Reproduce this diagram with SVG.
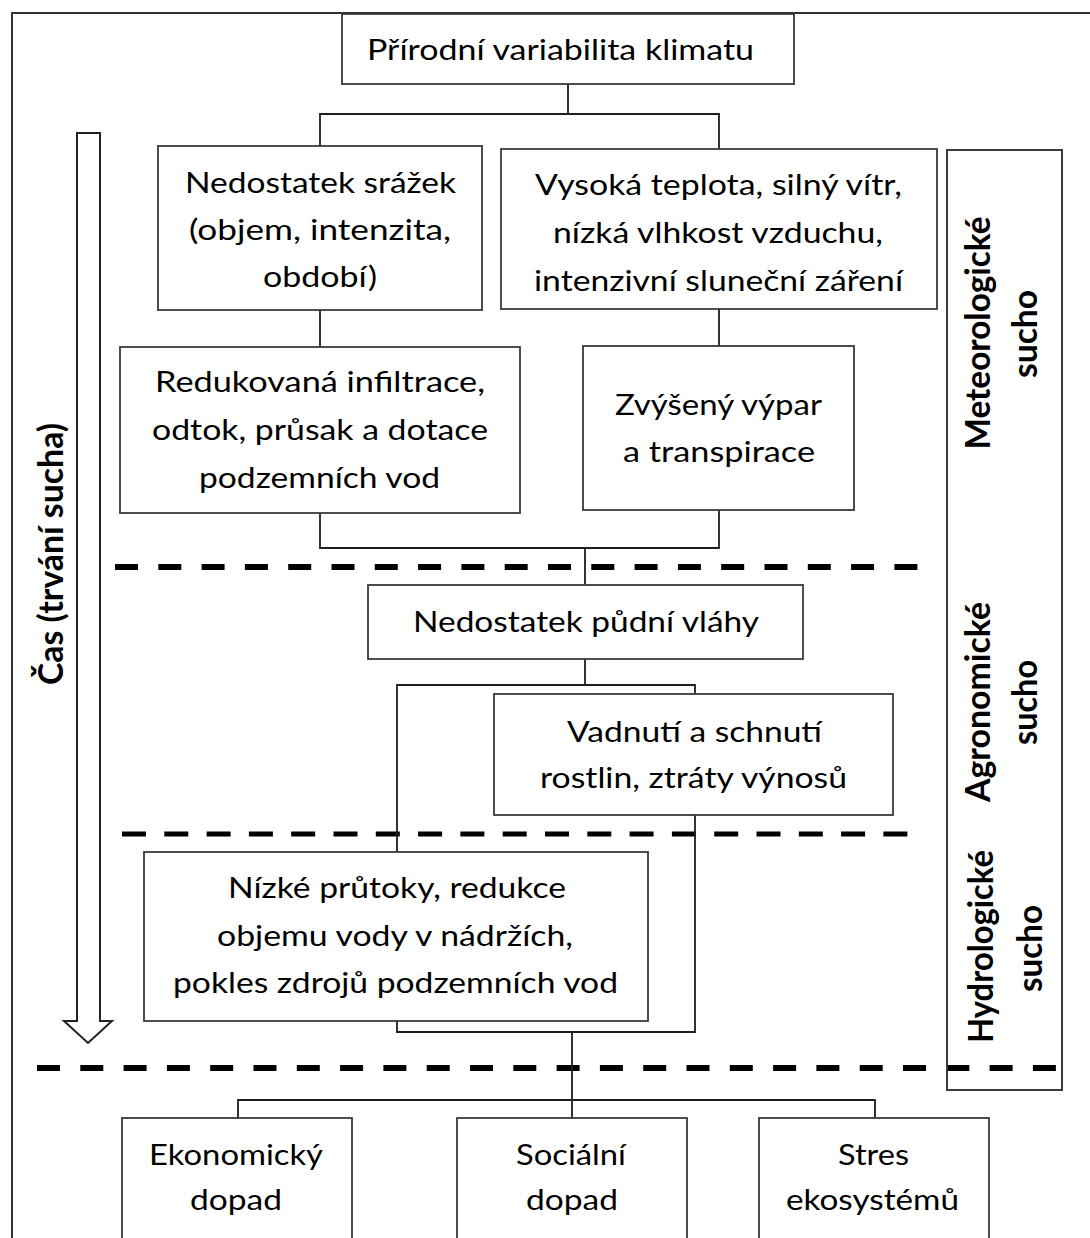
<svg xmlns="http://www.w3.org/2000/svg" width="1090" height="1238" viewBox="0 0 1090 1238">
<style>
  .box{fill:#fff;stroke:#3a3a3a;stroke-width:1.8}
  .con{fill:none;stroke:#1e1e1e;stroke-width:1.8}
  .dash{fill:none;stroke:#000;stroke-width:6;stroke-dasharray:23 20.3}
  .t{font-family:Lato,"Liberation Sans",sans-serif;font-size:28.5px;fill:#000}
  .b{font-family:Lato,"Liberation Sans",sans-serif;font-size:34px;font-weight:bold;fill:#000}
</style>
<rect width="1090" height="1238" fill="#fff"/>
<rect id="frame" x="12" y="13" width="1200" height="1300" fill="none" stroke="#333" stroke-width="2"/>

<g id="time-arrow">
  <path d="M77,133 H100 V1021 H112 L88,1043 L64,1021 H77 Z" fill="#fff" stroke="#222" stroke-width="2"/>
  <text class="b" transform="translate(63,554) rotate(-90)" text-anchor="middle" textLength="262" lengthAdjust="spacingAndGlyphs">Čas (trvání sucha)</text>
</g>

<g id="separators">
  <line class="dash" x1="115" y1="567" x2="918" y2="567"/>
  <line class="dash" x1="122" y1="834" x2="924" y2="834" style="stroke-width:5;stroke-dasharray:24 18.3"/>
  <line class="dash" x1="37" y1="1068" x2="1058" y2="1068"/>
</g>

<g id="connectors">
  <path class="con" d="M568,84 V114"/>
  <path class="con" d="M320,146 V114 H719 V149"/>
  <path class="con" d="M320,310 V347"/>
  <path class="con" d="M719,309 V346"/>
  <path class="con" d="M320,513 V548 H719 V510"/>
  <path class="con" d="M585,548 V585"/>
  <path class="con" d="M585,659 V685"/>
  <path class="con" d="M397,685 H695 V1032 H397 Z"/>
  <path class="con" d="M572,1032 V1118"/>
  <path class="con" d="M238,1118 V1100 H875 V1118"/>
</g>

<g id="phase-labels">
  <rect class="box" x="947" y="150" width="115" height="940" style="fill:none;stroke-width:2"/>
  <text class="b" transform="translate(990,333) rotate(-90)" text-anchor="middle" textLength="233" lengthAdjust="spacingAndGlyphs">Meteorologické</text>
  <text class="b" transform="translate(1037,334) rotate(-90)" text-anchor="middle" textLength="88" lengthAdjust="spacingAndGlyphs">sucho</text>
  <text class="b" transform="translate(990,702) rotate(-90)" text-anchor="middle" textLength="200" lengthAdjust="spacingAndGlyphs">Agronomické</text>
  <text class="b" transform="translate(1037,702.5) rotate(-90)" text-anchor="middle" textLength="85" lengthAdjust="spacingAndGlyphs">sucho</text>
  <text class="b" transform="translate(993,946.5) rotate(-90)" text-anchor="middle" textLength="193" lengthAdjust="spacingAndGlyphs">Hydrologické</text>
  <text class="b" transform="translate(1042,948.5) rotate(-90)" text-anchor="middle" textLength="87" lengthAdjust="spacingAndGlyphs">sucho</text>
</g>

<g id="n-climate">
  <rect class="box" x="342" y="14" width="452" height="70"/>
  <text class="t" x="367" y="60" textLength="387" lengthAdjust="spacingAndGlyphs">Přírodní variabilita klimatu</text>
</g>

<g id="n-precip">
  <rect class="box" x="158" y="146" width="324" height="164"/>
  <text class="t" x="185" y="193" textLength="271" lengthAdjust="spacingAndGlyphs">Nedostatek srážek</text>
  <text class="t" x="189" y="240" textLength="262" lengthAdjust="spacingAndGlyphs">(objem, intenzita,</text>
  <text class="t" x="263" y="287" textLength="114" lengthAdjust="spacingAndGlyphs">období)</text>
</g>

<g id="n-temp">
  <rect class="box" x="501" y="149" width="436" height="160"/>
  <text class="t" x="535" y="195" textLength="367" lengthAdjust="spacingAndGlyphs">Vysoká teplota, silný vítr,</text>
  <text class="t" x="553" y="243" textLength="330" lengthAdjust="spacingAndGlyphs">nízká vlhkost vzduchu,</text>
  <text class="t" x="534" y="291" textLength="369" lengthAdjust="spacingAndGlyphs">intenzivní sluneční záření</text>
</g>

<g id="n-infiltration">
  <rect class="box" x="120" y="347" width="400" height="166"/>
  <text class="t" x="155" y="392" textLength="330" lengthAdjust="spacingAndGlyphs">Redukovaná infiltrace,</text>
  <text class="t" x="152" y="440" textLength="336" lengthAdjust="spacingAndGlyphs">odtok, průsak a dotace</text>
  <text class="t" x="199" y="488" textLength="241" lengthAdjust="spacingAndGlyphs">podzemních vod</text>
</g>

<g id="n-evaporation">
  <rect class="box" x="583" y="346" width="271" height="164"/>
  <text class="t" x="615" y="415" textLength="207" lengthAdjust="spacingAndGlyphs">Zvýšený výpar</text>
  <text class="t" x="623" y="462" textLength="192" lengthAdjust="spacingAndGlyphs">a transpirace</text>
</g>

<g id="n-soil">
  <rect class="box" x="368" y="585" width="435" height="74"/>
  <text class="t" x="413" y="632" textLength="346" lengthAdjust="spacingAndGlyphs">Nedostatek půdní vláhy</text>
</g>

<g id="n-wilting">
  <rect class="box" x="494" y="694" width="399" height="121"/>
  <text class="t" x="567" y="742" textLength="255" lengthAdjust="spacingAndGlyphs">Vadnutí a schnutí</text>
  <text class="t" x="540" y="788" textLength="307" lengthAdjust="spacingAndGlyphs">rostlin, ztráty výnosů</text>
</g>

<g id="n-lowflow">
  <rect class="box" x="144" y="852" width="504" height="169"/>
  <text class="t" x="228" y="898" textLength="338" lengthAdjust="spacingAndGlyphs">Nízké průtoky, redukce</text>
  <text class="t" x="217" y="946" textLength="356" lengthAdjust="spacingAndGlyphs">objemu vody v nádržích,</text>
  <text class="t" x="173" y="993" textLength="445" lengthAdjust="spacingAndGlyphs">pokles zdrojů podzemních vod</text>
</g>

<g id="n-economic">
  <rect class="box" x="122" y="1118" width="230" height="140"/>
  <text class="t" x="149" y="1165" textLength="174" lengthAdjust="spacingAndGlyphs">Ekonomický</text>
  <text class="t" x="190" y="1210" textLength="92" lengthAdjust="spacingAndGlyphs">dopad</text>
</g>

<g id="n-social">
  <rect class="box" x="457" y="1118" width="230" height="140"/>
  <text class="t" x="516" y="1165" textLength="110" lengthAdjust="spacingAndGlyphs">Sociální</text>
  <text class="t" x="526" y="1210" textLength="92" lengthAdjust="spacingAndGlyphs">dopad</text>
</g>

<g id="n-ecosystem">
  <rect class="box" x="759" y="1118" width="230" height="140"/>
  <text class="t" x="838" y="1165" textLength="71" lengthAdjust="spacingAndGlyphs">Stres</text>
  <text class="t" x="786" y="1210" textLength="173" lengthAdjust="spacingAndGlyphs">ekosystémů</text>
</g>
</svg>
